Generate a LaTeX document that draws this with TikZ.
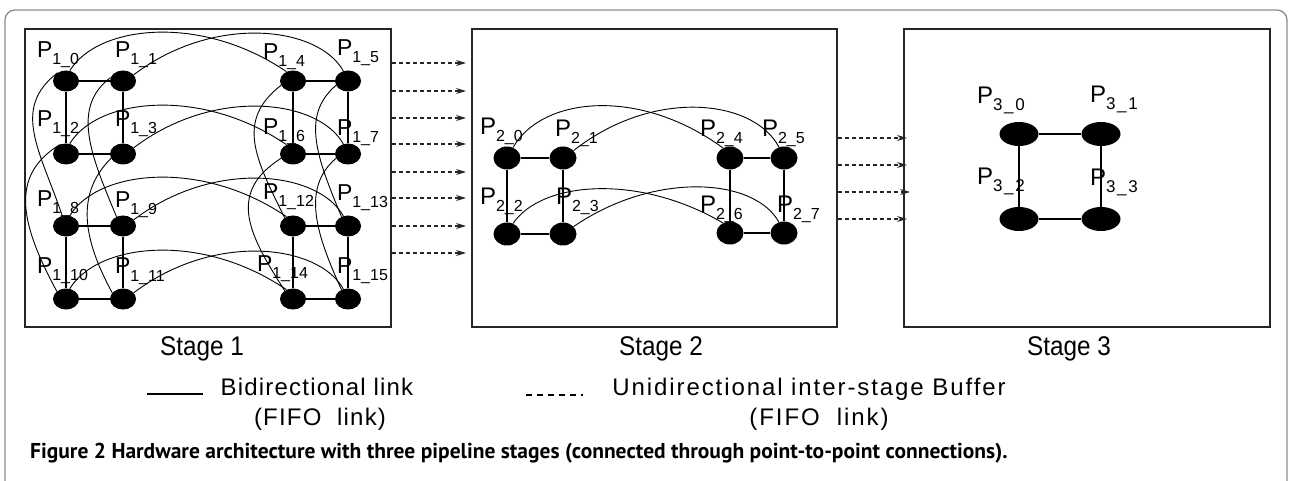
\documentclass[tikz,border=0pt]{standalone}
\usepackage{fontspec}
\setmainfont{Liberation Sans}
\newfontfamily\stagefont[FakeStretch=0.9]{Liberation Sans}
\newfontfamily\legfont[LetterSpace=5]{Liberation Sans}
\newfontfamily\legfontw[LetterSpace=8]{Liberation Sans}
\newfontfamily\capfont{PT Sans}
\newfontfamily\subfontw[LetterSpace=10]{Liberation Sans}
\usetikzlibrary{shapes.geometric,arrows.meta}

\newcommand{\plab}[2]{{\fontsize{23}{23}\selectfont P}\raisebox{-7pt}{\fontsize{16}{16}\selectfont #1\_#2}}
\newcommand{\plabb}[2]{{\fontsize{24}{24}\selectfont P}\raisebox{-7pt}{\fontsize{16}{16}\selectfont #1\_#2}}
\newcommand{\plabc}[2]{{\fontsize{24}{24}\selectfont P}\raisebox{-7pt}{\fontsize{17}{17}\subfontw #1\_#2}}

\begin{document}
\begin{tikzpicture}[x=1pt,y=-1pt,
  pa/.style={ellipse,fill=black,inner sep=0pt,minimum width=26pt,minimum height=21pt},
  pb/.style={ellipse,fill=black,inner sep=0pt,minimum width=27pt,minimum height=23pt},
  pc/.style={ellipse,fill=black,inner sep=0pt,minimum width=39pt,minimum height=24pt},
  lab/.style={anchor=base west,inner sep=0pt,outer sep=0pt},
  link/.style={line width=1.1pt},
  curve/.style={line width=0.9pt},
  stagebox/.style={draw=black!85,line width=1.2pt,inner sep=0pt,minimum width=366pt,minimum height=298pt},
  buf/.style={draw=black!85,line width=1.1pt,dash pattern=on 4pt off 3pt,-{Stealth[length=10pt,width=6pt]}},
  frame/.style={draw=black!45,line width=1.3pt,rounded corners=10pt},
  txt/.style={anchor=base,inner sep=0pt}
]
\useasboundingbox (0,0) rectangle (1291,481);
\fill[white] (0,0) rectangle (1291,481);
\draw[frame] (5,490) -- (5,10) -- (1287,10) -- (1287,490);

% stage boxes
\node[stagebox] (s1) at (208,178) {};
\node[stagebox,minimum width=365pt] (s2) at (654.5,178) {};
\node[stagebox] (s3) at (1087,178) {};

% ---------- Stage 1 nodes ----------
\node[pa] (p10) at (66,81) {};
\node[pa] (p11) at (123,81) {};
\node[pa] (p14) at (293,81) {};
\node[pa] (p15) at (348,81) {};
\node[pa] (p12) at (66,154) {};
\node[pa] (p13) at (123,154) {};
\node[pa] (p16) at (293,154) {};
\node[pa] (p17) at (348,154) {};
\node[pa] (p18) at (66,226) {};
\node[pa] (p19) at (123,226) {};
\node[pa] (p112) at (293,226) {};
\node[pa] (p113) at (348,226) {};
\node[pa] (p110) at (66,299) {};
\node[pa] (p111) at (123,299) {};
\node[pa] (p114) at (293,299) {};
\node[pa] (p115) at (348,299) {};

% straight links stage 1
\foreach \a/\b in {p10/p11,p10/p12,p11/p13,p12/p13,p14/p15,p14/p16,p15/p17,p16/p17,
                   p18/p19,p18/p110,p19/p111,p110/p111,p112/p113,p112/p114,p113/p115,p114/p115}
  \draw[link] (\a) -- (\b);

% horizontal arcs stage 1
\foreach \a/\b in {p10/p14,p12/p16,p18/p112,p110/p114}
  \draw[curve] (\a.70) .. controls +(28,-46) and +(-85,-58) .. (\b.125);
\foreach \a/\b in {p11/p15,p13/p17,p19/p113,p111/p115}
  \draw[curve] (\a.30) .. controls +(80,-61) and +(-25,-45) .. (\b.115);

% vertical arcs stage 1
\draw[curve] (p10.135) .. controls +(-47,36) and +(-22,-65) .. (p18.110);
\draw[curve] (p12.120) .. controls +(-50,30) and +(-38,-70) .. (p110.140);
\draw[curve] (p11.165) .. controls +(-40,30) and +(-25,-60) .. (p19.125);
\draw[curve] (p13.200) .. controls +(-35,35) and +(-30,-55) .. (p111.150);
\draw[curve] (p14.200) .. controls +(-45,35) and +(-30,-60) .. (p112.135);
\draw[curve] (p15.200) .. controls +(-35,30) and +(-25,-60) .. (p113.125);
\draw[curve] (p16.200) .. controls +(-55,35) and +(-35,-55) .. (p114.135);
\draw[curve] (p17.200) .. controls +(-35,30) and +(-25,-55) .. (p115.125);

% labels stage 1
\node[lab] (l10) at (37,58) {\plab{1}{0}};
\node[lab] (l11) at (115,58) {\plab{1}{1}};
\node[lab] (l14) at (263,60) {\plab{1}{4}};
\node[lab] (l15) at (337,56) {\plab{1}{5}};
\node[lab] (l12) at (37,127) {\plab{1}{2}};
\node[lab] (l13) at (115,127) {\plab{1}{3}};
\node[lab] (l16) at (263,135) {\plab{1}{6}};
\node[lab] (l17) at (337,136) {\plab{1}{7}};
\node[lab] (l18) at (37,207) {\plab{1}{8}};
\node[lab] (l19) at (115,208) {\plab{1}{9}};
\node[lab] (l112) at (263,200) {\plab{1}{12}};
\node[lab] (l113) at (337,201) {\plab{1}{13}};
\node[lab] (l110) at (37,273) {\plab{1}{10}};
\node[lab] (l111) at (115,274) {\plab{1}{11}};
\node[lab] (l114) at (257,272) {\plab{1}{14}};
\node[lab] (l115) at (337,273) {\plab{1}{15}};

% ---------- Stage 2 ----------
\node[pb] (q0) at (507,158) {};
\node[pb] (q1) at (563,158) {};
\node[pb] (q4) at (730,158) {};
\node[pb] (q5) at (784,158) {};
\node[pb] (q2) at (507,234) {};
\node[pb] (q3) at (563,234) {};
\node[pb] (q6) at (730,233) {};
\node[pb] (q7) at (784,233) {};
\foreach \a/\b in {q0/q1,q0/q2,q1/q3,q2/q3,q4/q5,q4/q6,q5/q7,q6/q7}
  \draw[link] (\a) -- (\b);
\draw[curve] (q0.60) .. controls +(28,-50) and +(-85,-62) .. (q4.125);
\draw[curve] (q1.35) .. controls +(80,-63) and +(-25,-48) .. (q5.115);
\draw[curve] (q2.60) .. controls +(28,-42) and +(-85,-50) .. (q6.125);
\draw[curve] (q3.35) .. controls +(80,-55) and +(-25,-45) .. (q7.115);
\node[lab] (m0) at (480,135) {\plabb{2}{0}};
\node[lab] (m1) at (555,137) {\plabb{2}{1}};
\node[lab] (m4) at (700,137) {\plabb{2}{4}};
\node[lab] (m5) at (762,137) {\plabb{2}{5}};
\node[lab] (m2) at (480,205) {\plabb{2}{2}};
\node[lab] (m3) at (556,205) {\plabb{2}{3}};
\node[lab] (m6) at (700,213) {\plabb{2}{6}};
\node[lab] (m7) at (777,213) {\plabb{2}{7}};

% ---------- Stage 3 ----------
\node[pc] (r0) at (1019,134) {};
\node[pc] (r1) at (1101,134) {};
\node[pc] (r2) at (1019,219) {};
\node[pc] (r3) at (1101,219) {};
\foreach \a/\b in {r0/r1,r0/r2,r1/r3,r2/r3}
  \draw[link] (\a) -- (\b);
\node[lab] (n0) at (977,104) {\plabc{3}{0}};
\node[lab] (n1) at (1090,103) {\plabc{3}{1}};
\node[lab] (n2) at (977,185) {\plabc{3}{2}};
\node[lab] (n3) at (1090,186) {\plabc{3}{3}};

% ---------- inter-stage buffers ----------
\foreach \y [count=\i] in {63,91,118,144,172,198,226,253} {
  \coordinate (ta\i) at (466,\y);
  \draw[buf] (s1.east |- ta\i) -- (ta\i);
}
\foreach \y/\x [count=\i] in {138/907,165/907,192/910,219/907} {
  \coordinate (tb\i) at (\x,\y);
  \draw[buf] (s2.east |- tb\i) -- (tb\i);
}

% stage labels
\node[txt] (st1) at (202,355) {\fontsize{27}{27}\stagefont Stage 1};
\node[txt] (st2) at (661,355) {\fontsize{27}{27}\stagefont Stage 2};
\node[txt] (st3) at (1069,355) {\fontsize{27}{27}\stagefont Stage 3};

% legend
\coordinate (lga) at (147,394);
\coordinate (lgb) at (203,394);
\draw[line width=2pt] (lga) -- (lgb);
\node[txt] (lt1) at (317,395) {\fontsize{24}{24}\legfont Bidirectional link};
\node[txt] (lt2) at (320,425) {\fontsize{24}{24}\legfont (FIFO\ \ link)};
\coordinate (lgc) at (526,395);
\coordinate (lgd) at (583,395);
\draw[line width=1.3pt,dash pattern=on 6pt off 5pt] (lgc) -- (lgd);
\node[txt] (lt3) at (809,395) {\fontsize{24}{24}\legfontw Unidirectional inter-stage Buffer};
\node[txt] (lt4) at (819,425) {\fontsize{24}{24}\legfontw (FIFO\ \ link)};

% caption
\node[anchor=base west,inner sep=0pt] (cap) at (30,458) {\capfont\bfseries\fontsize{21.5}{21.5}\selectfont Figure 2 Hardware architecture with three pipeline stages (connected through point-to-point connections).};
\end{tikzpicture}
\end{document}
